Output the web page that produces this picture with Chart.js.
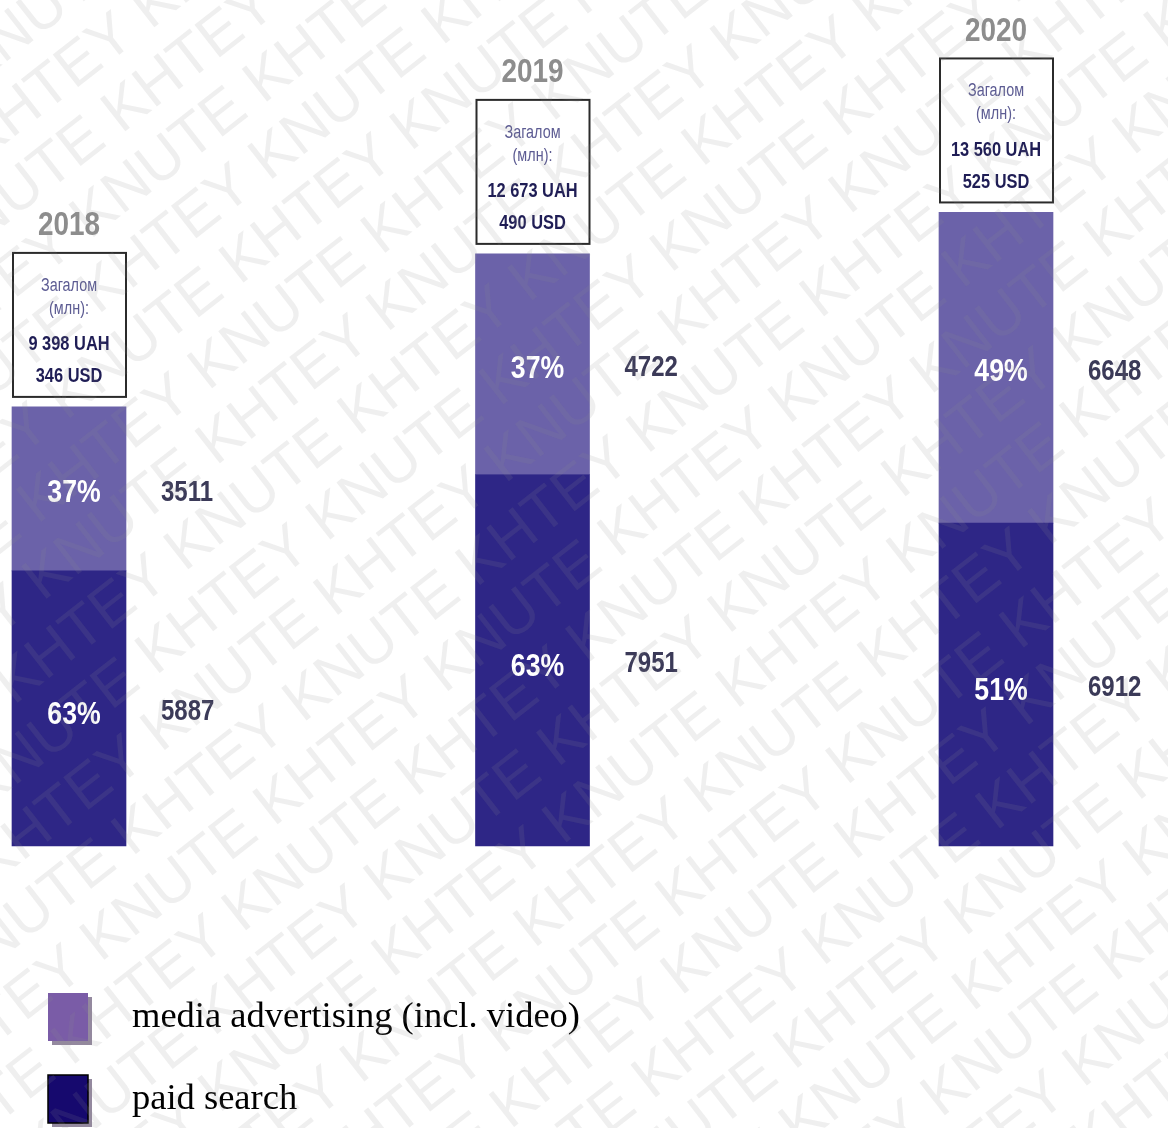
<!DOCTYPE html>
<html>
<head>
<meta charset="utf-8">
<script src="https://cdn.jsdelivr.net/npm/chart.js@4"></script>
<style>
  html, body { margin: 0; padding: 0; background: #ffffff; }
  #wrap { width: 1168px; height: 1128px; position: relative; }
</style>
</head>
<body>
<div id="wrap"><canvas id="c" width="1168" height="1128"></canvas></div>
<script>
// ---- data ----
const years = ['2018', '2019', '2020'];
const paidSearch = [5887, 7951, 6912];
const mediaAdvertising = [3511, 4722, 6648];
const paidPct = ['63%', '63%', '51%'];
const mediaPct = ['37%', '37%', '49%'];
const totalUAH = ['9 398 UAH', '12 673 UAH', '13 560 UAH'];
const totalUSD = ['346 USD', '490 USD', '525 USD'];
const boxTitle = 'Загалом';
const boxUnit = '(млн):';
const seriesNames = ['media advertising (incl. video)', 'paid search'];
const watermarkText = 'KNUTE KHTEY ';

const SANS = "'Liberation Sans', Arial, sans-serif";

function narrowText(ctx, text, x, y, font, sx, align) {
  ctx.save();
  ctx.font = font;
  ctx.textAlign = align;
  ctx.textBaseline = 'middle';
  ctx.translate(x, y);
  ctx.scale(sx, 1);
  ctx.fillText(text, 0, 0);
  ctx.restore();
}

const bgPlugin = {
  id: 'bg',
  beforeDraw(chart) {
    const ctx = chart.ctx;
    ctx.save();
    ctx.fillStyle = '#ffffff';
    ctx.fillRect(0, 0, chart.width, chart.height);
    ctx.restore();
  },
  afterDraw(chart) {
    // faint watermark over everything
    const ctx = chart.ctx;
    ctx.save();
    ctx.translate(chart.width / 2, chart.height / 2);
    ctx.rotate(-38 * Math.PI / 180);
    ctx.font = "60px " + SANS;
    ctx.fillStyle = 'rgba(140,140,140,0.14)';
    ctx.textBaseline = 'middle';
    const line = watermarkText.repeat(12);
    for (let r = -14; r <= 14; r++) {
      const off = (r % 3) * 130;
      ctx.fillText(line, -1500 + off, r * 64);
    }
    ctx.restore();
  }
};

const annotPlugin = {
  id: 'annot',
  afterDatasetsDraw(chart) {
    const ctx = chart.ctx;
    const paidMeta = chart.getDatasetMeta(0).data;
    const mediaMeta = chart.getDatasetMeta(1).data;
    ctx.save();
    for (let i = 0; i < years.length; i++) {
      const p = paidMeta[i], m = mediaMeta[i];
      const cx = p.x, w = p.width;
      const left = cx - w / 2, right = cx + w / 2;
      // percent labels
      ctx.fillStyle = '#ffffff';
      narrowText(ctx, mediaPct[i], cx + 5, (m.y + m.base) / 2 + 5, 'bold 31px ' + SANS, 0.86, 'center');
      narrowText(ctx, paidPct[i], cx + 5, (p.y + p.base) / 2 + 7, 'bold 31px ' + SANS, 0.86, 'center');
      // values
      ctx.fillStyle = '#3b3a58';
      narrowText(ctx, String(mediaAdvertising[i]), right + 35, (m.y + m.base) / 2 + 4, 'bold 30px ' + SANS, 0.8, 'left');
      narrowText(ctx, String(paidSearch[i]), right + 35, (p.y + p.base) / 2 + 3, 'bold 30px ' + SANS, 0.8, 'left');
      // box
      const boxBottom = m.y - 10;
      const boxTop = boxBottom - 144;
      ctx.strokeStyle = '#2b2b2b';
      ctx.lineWidth = 2;
      ctx.strokeRect(left + 1, boxTop, w - 1, boxBottom - boxTop);
      ctx.fillStyle = '#5d5c93';
      narrowText(ctx, boxTitle, cx, boxTop + 33, '18px ' + SANS, 0.8, 'center');
      narrowText(ctx, boxUnit, cx, boxTop + 56, '18px ' + SANS, 0.8, 'center');
      ctx.fillStyle = '#1f1d55';
      narrowText(ctx, totalUAH[i], cx, boxTop + 92, 'bold 20px ' + SANS, 0.82, 'center');
      narrowText(ctx, totalUSD[i], cx, boxTop + 124, 'bold 20px ' + SANS, 0.82, 'center');
      // year
      ctx.fillStyle = '#8d8d8d';
      narrowText(ctx, years[i], cx, boxTop - 27, 'bold 34px ' + SANS, 0.82, 'center');
    }
    // legend
    const legendColors = ['#7a5ca7', '#16096e'];
    const ly = [993, 1075];
    for (let k = 0; k < 2; k++) {
      ctx.fillStyle = 'rgba(60,40,80,0.55)';
      ctx.fillRect(52, ly[k] + 4, 40, 48);
      ctx.fillStyle = legendColors[k];
      ctx.fillRect(48, ly[k], 40, 48);
      if (k === 1) {
        ctx.strokeStyle = '#000000';
        ctx.lineWidth = 1.5;
        ctx.strokeRect(48, ly[k], 40, 48);
      }
      ctx.fillStyle = '#000000';
      ctx.textAlign = 'left';
      ctx.textBaseline = 'middle';
      ctx.font = "36.5px 'Liberation Serif', 'Times New Roman', serif";
      ctx.fillText(seriesNames[k], 132, ly[k] + 24);
    }
    ctx.restore();
  }
};

new Chart(document.getElementById('c'), {
  type: 'bar',
  data: {
    labels: years,
    datasets: [
      { label: seriesNames[1], data: paidSearch, backgroundColor: '#2e2686', clip: false },
      { label: seriesNames[0], data: mediaAdvertising, backgroundColor: '#6b62a9', clip: false }
    ]
  },
  options: {
    responsive: false,
    animation: false,
    layout: { padding: { left: 69, right: 172, top: 5, bottom: 282 } },
    datasets: { bar: { barThickness: 114 } },
    plugins: { legend: { display: false }, tooltip: { enabled: false } },
    scales: {
      x: { display: false, stacked: true, offset: false },
      y: { display: false, stacked: true, min: 0, max: 18000 }
    }
  },
  plugins: [bgPlugin, annotPlugin]
});
</script>
</body>
</html>
